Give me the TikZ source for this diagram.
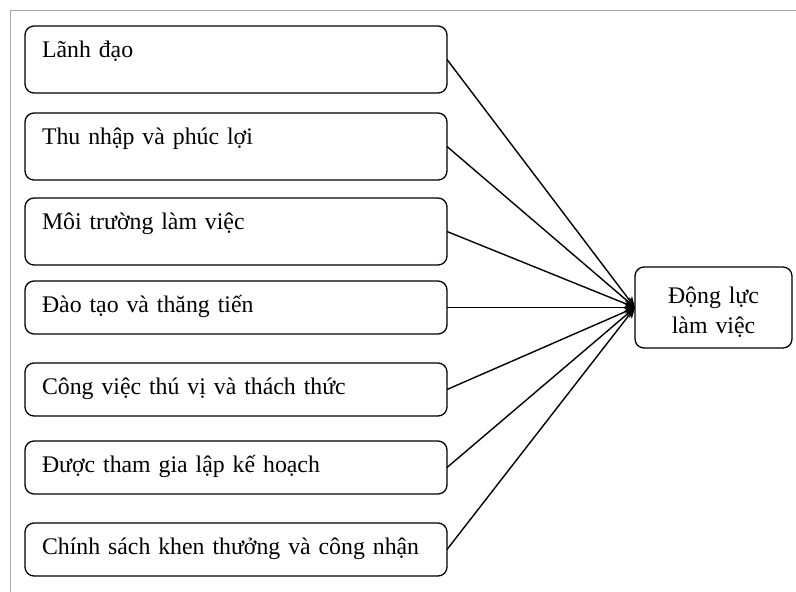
\documentclass[tikz,border=0pt]{standalone}
\usepackage{fontspec}
\setmainfont{Liberation Serif}
\usetikzlibrary{arrows.meta}
\begin{document}
\begin{tikzpicture}[x=1pt,y=-1pt,
  factor/.style={draw, rounded corners=9pt, line width=1.3pt, anchor=north west,
    outer sep=0pt, inner xsep=17pt, inner ysep=0pt, text width=388pt, align=left,
    text height=31pt, font=\fontsize{23.8}{29}\selectfont},
  tall/.style={text depth=36pt},
  short/.style={text depth=22pt},
  goalbox/.style={draw, rounded corners=9pt, line width=1.3pt, anchor=north west,
    outer sep=0pt, inner sep=0pt, minimum width=157pt, text width=157pt,
    text height=36pt, text depth=45pt,
    align=center, font=\fontsize{23.8}{30}\selectfont},
  link/.style={line width=1.4pt, -{Stealth[length=11pt,width=9pt]}},
  frame/.style={draw=black!35, line width=1pt}]
\useasboundingbox (0,0) rectangle (796,592);
\draw[frame] (10,592) -- (10,10) -- (796,10);
\node[factor, tall]  (f1) at (25,26)  {Lãnh đạo};
\node[factor, tall]  (f2) at (25,113) {Thu nhập và phúc lợi};
\node[factor, tall]  (f3) at (25,198) {Môi trường làm việc};
\node[factor, short] (f4) at (25,281) {Đào tạo và thăng tiến};
\node[factor, short] (f5) at (25,363) {Công việc thú vị và thách thức};
\node[factor, short] (f6) at (25,441) {Được tham gia lập kế hoạch};
\node[factor, short] (f7) at (25,523) {Chính sách khen thưởng và công nhận};
\node[goalbox] (goal) at (635,267) {Động lực\\làm việc};
\foreach \i in {1,...,7} {
  \draw[link] (f\i.east) -- (goal.west);
}
\end{tikzpicture}
\end{document}
